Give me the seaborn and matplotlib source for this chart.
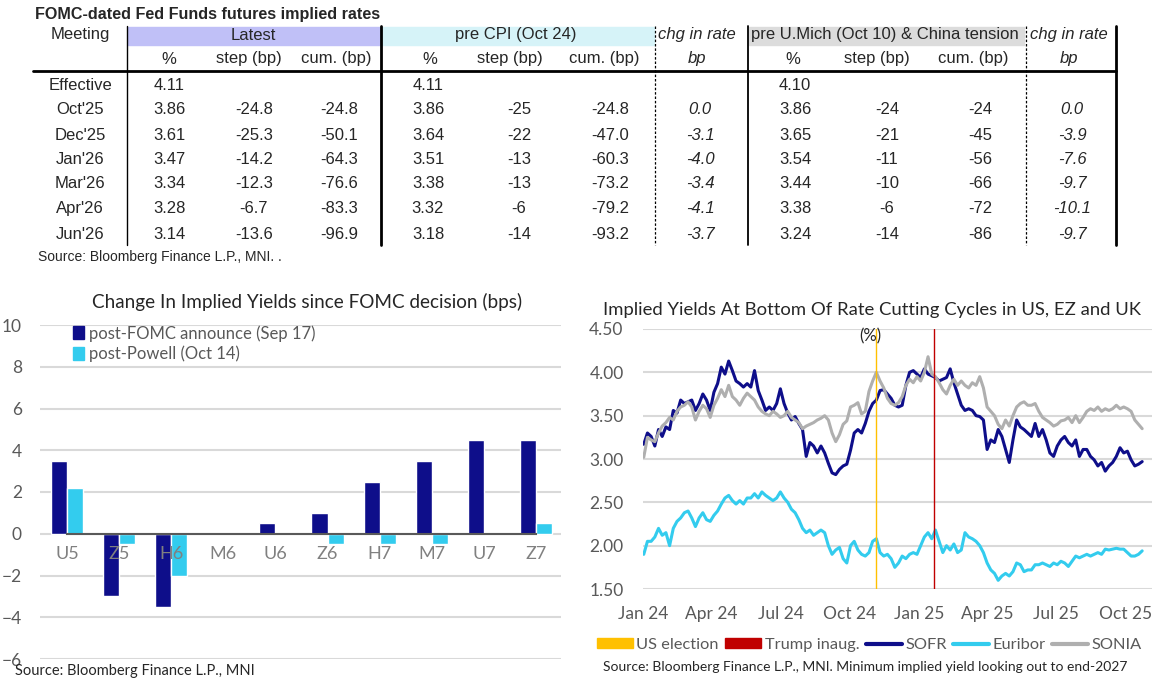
import pandas as pd
import numpy as np
import matplotlib
matplotlib.use("Agg")
import matplotlib.pyplot as plt
import matplotlib.dates as mdates
from matplotlib.patches import Patch, Rectangle
from matplotlib.lines import Line2D
from matplotlib.ticker import FormatStrFormatter
import seaborn as sns

# ---------------- data: FOMC-dated futures table ----------------
meetings = ["Effective", "Oct'25", "Dec'25", "Jan'26", "Mar'26", "Apr'26", "Jun'26"]
latest_pct = [4.11, 3.86, 3.61, 3.47, 3.34, 3.28, 3.14]
latest_step = [None, -24.8, -25.3, -14.2, -12.3, -6.7, -13.6]
latest_cum = [None, -24.8, -50.1, -64.3, -76.6, -83.3, -96.9]
precpi_pct = [4.11, 3.86, 3.64, 3.51, 3.38, 3.32, 3.18]
precpi_step = [None, -25, -22, -13, -13, -6, -14]
precpi_cum = [None, -24.8, -47.0, -60.3, -73.2, -79.2, -93.2]
chg_cpi = [None, 0.0, -3.1, -4.0, -3.4, -4.1, -3.7]
premich_pct = [4.10, 3.86, 3.65, 3.54, 3.44, 3.38, 3.24]
premich_step = [None, -24, -21, -11, -10, -6, -14]
premich_cum = [None, -24, -45, -56, -66, -72, -86]
chg_mich = [None, 0.0, -3.9, -7.6, -9.7, -10.1, -9.7]

# ---------------- data: bar chart ----------------
contracts = ["U5", "Z5", "H6", "M6", "U6", "Z6", "H7", "M7", "U7", "Z7"]
post_fomc = [3.5, -3.0, -3.5, 0.0, 0.5, 1.0, 2.5, 3.5, 4.5, 4.5]
post_powell = [2.2, -0.5, -2.0, 0.0, 0.0, -0.5, -0.5, -0.5, 0.0, 0.5]

# ---------------- data: implied yield lines (approx every ~5 days) ----------------
start_date = "2024-01-02"
end_date = "2025-10-23"
us_election = "2024-11-05"
trump_inaug = "2025-01-20"

sofr = [3.17, 3.30, 3.26, 3.15, 3.34, 3.26, 3.37, 3.34, 3.56, 3.53,
        3.68, 3.64, 3.66, 3.68, 3.56, 3.64, 3.75, 3.68, 3.56, 3.77,
        3.87, 4.06, 3.98, 4.13, 4.02, 3.90, 3.87, 3.83, 3.87, 3.83,
        4.02, 3.79, 3.68, 3.56, 3.60, 3.56, 3.64, 3.81, 3.64, 3.53,
        3.45, 3.49, 3.41, 3.34, 3.03, 3.19, 3.15, 3.07, 3.15, 3.07,
        2.95, 2.84, 2.82, 2.88, 2.92, 2.94, 3.10, 3.30, 3.34, 3.30,
        3.41, 3.55, 3.64, 3.68, 3.79, 3.80, 3.75, 3.70, 3.62, 3.60,
        3.62, 3.85, 4.00, 4.02, 3.98, 3.94, 4.04, 3.98, 3.96, 3.94,
        3.90, 3.92, 3.94, 4.04, 3.88, 3.75, 3.62, 3.56, 3.58, 3.56,
        3.50, 3.49, 3.45, 3.11, 3.22, 3.19, 3.34, 3.26, 3.11, 2.96,
        3.22, 3.45, 3.37, 3.34, 3.30, 3.26, 3.41, 3.26, 3.34, 3.22,
        3.07, 3.03, 3.15, 3.22, 3.26, 3.19, 3.15, 3.22, 3.03, 3.11,
        3.11, 3.03, 2.99, 2.92, 2.96, 2.86, 2.92, 2.96, 3.03, 3.13,
        3.07, 3.09, 2.99, 2.92, 2.94, 2.97]

sonia = [3.02, 3.25, 3.22, 3.20, 3.30, 3.38, 3.42, 3.48, 3.45, 3.55,
         3.60, 3.62, 3.66, 3.60, 3.45, 3.55, 3.62, 3.58, 3.48, 3.62,
         3.70, 3.80, 3.72, 3.85, 3.72, 3.68, 3.62, 3.70, 3.76, 3.72,
         3.68, 3.60, 3.55, 3.52, 3.50, 3.55, 3.52, 3.48, 3.50, 3.55,
         3.48, 3.45, 3.42, 3.35, 3.38, 3.40, 3.42, 3.45, 3.47, 3.50,
         3.45, 3.30, 3.20, 3.28, 3.40, 3.44, 3.60, 3.62, 3.65, 3.52,
         3.55, 3.78, 3.90, 4.00, 3.90, 3.82, 3.70, 3.64, 3.62, 3.65,
         3.72, 3.85, 3.92, 3.88, 3.95, 3.90, 4.00, 4.18, 3.98, 3.95,
         3.88, 3.80, 3.75, 3.85, 3.92, 3.85, 3.90, 3.85, 3.82, 3.88,
         3.85, 3.95, 3.82, 3.60, 3.55, 3.50, 3.40, 3.35, 3.45, 3.38,
         3.50, 3.60, 3.64, 3.66, 3.62, 3.62, 3.64, 3.55, 3.48, 3.45,
         3.42, 3.38, 3.40, 3.44, 3.45, 3.48, 3.42, 3.50, 3.42, 3.48,
         3.55, 3.58, 3.56, 3.60, 3.55, 3.58, 3.56, 3.58, 3.62, 3.58,
         3.60, 3.58, 3.55, 3.45, 3.40, 3.35]

euribor = [1.90, 2.05, 2.05, 2.10, 2.20, 2.12, 2.15, 2.00, 2.20, 2.28,
           2.32, 2.38, 2.40, 2.32, 2.22, 2.32, 2.38, 2.30, 2.28, 2.35,
           2.40, 2.48, 2.55, 2.58, 2.52, 2.48, 2.52, 2.48, 2.55, 2.55,
           2.60, 2.55, 2.62, 2.58, 2.55, 2.52, 2.55, 2.62, 2.55, 2.50,
           2.42, 2.38, 2.30, 2.20, 2.15, 2.18, 2.12, 2.15, 2.18, 2.15,
           2.00, 1.90, 1.95, 1.98, 1.85, 1.80, 2.00, 2.05, 1.95, 1.90,
           1.88, 1.92, 2.05, 2.08, 1.92, 1.88, 1.90, 1.85, 1.75, 1.80,
           1.88, 1.85, 1.90, 1.92, 1.90, 2.00, 2.10, 2.15, 2.08, 2.18,
           2.05, 1.92, 2.00, 1.95, 2.02, 1.92, 1.95, 2.15, 2.10, 2.08,
           2.05, 2.00, 1.92, 1.80, 1.72, 1.68, 1.60, 1.65, 1.68, 1.65,
           1.70, 1.80, 1.78, 1.70, 1.72, 1.72, 1.78, 1.78, 1.80, 1.78,
           1.76, 1.80, 1.78, 1.82, 1.80, 1.76, 1.82, 1.88, 1.86, 1.88,
           1.90, 1.88, 1.90, 1.92, 1.90, 1.96, 1.95, 1.96, 1.97, 1.96,
           1.96, 1.92, 1.88, 1.88, 1.90, 1.94]

# ---------------- style ----------------
sns.set_style("white")
plt.rcParams['font.family'] = ['Lato', 'DejaVu Sans']

NAVY = '#0E0E8A'
CYAN = '#33CCEE'
GREY_LINE = '#AFAFAF'
TXT = '#595959'
W, H = 1158, 683

fig = plt.figure(figsize=(W / 100, H / 100), dpi=100)


def fx(x):
    return x / W


def fy(y):
    return 1 - y / H


# ---------------- table ----------------
TF = ['Liberation Sans', 'DejaVu Sans']
fig.text(fx(35), fy(14), "FOMC-dated Fed Funds futures implied rates", family=TF,
         weight='bold', size=11.6, ha='left', va='center')

# header bands
for x0, x1, col in [(128, 380, '#C0C0F7'), (382, 654, '#D6F3F8'), (749, 1024, '#DCDCDC')]:
    fig.patches.append(Rectangle((fx(x0), fy(45)), fx(x1) - fx(x0), fy(27) - fy(45),
                                 transform=fig.transFigure, color=col, zorder=0))

fig.text(fx(80), fy(35), "Meeting", family=TF, size=12, ha='center', va='center')
fig.text(fx(253), fy(35), "Latest", family=TF, size=12, ha='center', va='center')
fig.text(fx(516), fy(35), "pre CPI (Oct 24)", family=TF, size=12, ha='center', va='center')
fig.text(fx(885), fy(35), "pre U.Mich (Oct 10) & China tension", family=TF, size=12,
         ha='center', va='center')
for xc in [697, 1069]:
    fig.text(fx(xc), fy(35), "chg in rate", family=TF, size=12, style='italic',
             ha='center', va='center')
    fig.text(fx(xc), fy(59), "bp", family=TF, size=12, style='italic', ha='center', va='center')

for xc, lab in [(169, "%"), (249, "step (bp)"), (336, "cum. (bp)"),
                (430, "%"), (510, "step (bp)"), (604, "cum. (bp)"),
                (793, "%"), (877, "step (bp)"), (973, "cum. (bp)")]:
    fig.text(fx(xc), fy(59), lab, family=TF, size=12, ha='center', va='center')

row_y = [85, 110, 135, 159, 184, 209, 234]
columns = [
    (80, meetings, "{}", 'normal'),
    (169, latest_pct, "{:.2f}", 'normal'),
    (254, latest_step, "{:.1f}", 'normal'),
    (339, latest_cum, "{:.1f}", 'normal'),
    (428, precpi_pct, "{:.2f}", 'normal'),
    (519, precpi_step, "{:.0f}", 'normal'),
    (610, precpi_cum, "{:.1f}", 'normal'),
    (700, chg_cpi, "{:.1f}", 'italic'),
    (795, premich_pct, "{:.2f}", 'normal'),
    (887, premich_step, "{:.0f}", 'normal'),
    (980, premich_cum, "{:.0f}", 'normal'),
    (1072, chg_mich, "{:.1f}", 'italic'),
]
for xc, vals, fmt, st in columns:
    for yy, v in zip(row_y, vals):
        if v is None:
            continue
        fig.text(fx(xc), fy(yy), fmt.format(v), family=TF, size=12, style=st,
                 ha='center', va='center')

# table rules
fig.add_artist(Line2D([fx(33), fx(1116)], [fy(71), fy(71)], color='black', lw=2))
for x, lw, ls in [(127, 1.0, '-'), (381, 2.0, '-'), (655, 0.9, (0, (2, 1.5))),
                  (748, 1.3, '-'), (1026, 0.9, (0, (2, 1.5))), (1116, 2.0, '-')]:
    fig.add_artist(Line2D([fx(x), fx(x)], [fy(26), fy(245)], color='black', lw=lw, ls=ls))

fig.text(fx(38), fy(257), "Source: Bloomberg Finance L.P., MNI. .", family=TF, size=10,
         ha='left', va='center')

# ---------------- left: bar chart ----------------
ax1 = fig.add_axes([fx(40), fy(659), fx(561) - fx(40), fy(325) - fy(659)])
bars = pd.DataFrame({
    'contract': contracts * 2,
    'bps': post_fomc + post_powell,
    'series': ['post-FOMC announce (Sep 17)'] * len(contracts) + ['post-Powell (Oct 14)'] * len(contracts),
})
sns.barplot(data=bars, x='contract', y='bps', hue='series', palette=[NAVY, CYAN],
            width=0.62, saturation=1, legend=False, ax=ax1, zorder=3)
ax1.set_ylim(-6, 10)
ax1.set_yticks(range(-6, 11, 2))
ax1.set_xlim(-0.52, 9.48)
ax1.set_axisbelow(True)
ax1.xaxis.set_zorder(5)
ax1.grid(axis='y', color='#D9D9D9', lw=1.5)
ax1.grid(axis='x', visible=False)
for s in ['top', 'right', 'left']:
    ax1.spines[s].set_visible(False)
ax1.spines['bottom'].set_position(('data', 0))
ax1.spines['bottom'].set_bounds(0, len(contracts) - 1)
ax1.spines['bottom'].set_color('#595959')
ax1.spines['bottom'].set_linewidth(1.5)
ax1.spines['bottom'].set_zorder(4)
ax1.tick_params(axis='x', length=0, pad=9, labelsize=13, labelcolor='#808080')
ax1.tick_params(axis='y', length=0, pad=13, labelsize=12.5, labelcolor=TXT)
ax1.set_xlabel('')
ax1.set_ylabel('')
ax1.legend(handles=[Patch(color=NAVY), Patch(color=CYAN)],
           labels=['post-FOMC announce (Sep 17)', 'post-Powell (Oct 14)'],
           loc='upper left', bbox_to_anchor=(0.063, 1.0), frameon=False, fontsize=12,
           labelcolor=TXT, handlelength=0.7, handleheight=0.8, handletextpad=0.3,
           labelspacing=0.25, borderpad=0, borderaxespad=0)
fig.text(fx(307), fy(302), "Change In Implied Yields since FOMC decision (bps)", size=13.6,
         color='#262626', ha='center', va='center')
fig.text(fx(15), fy(671), "Source: Bloomberg Finance L.P., MNI", size=10.5,
         ha='left', va='center')

# ---------------- right: line chart ----------------
ax2 = fig.add_axes([fx(643), fy(589), fx(1152) - fx(643), fy(329) - fy(589)])
dates = pd.date_range(start_date, end_date, periods=len(sofr))
lines = pd.DataFrame({'date': dates, 'SOFR': sofr, 'Euribor': euribor, 'SONIA': sonia})
sns.lineplot(data=lines, x='date', y='SOFR', color=NAVY, lw=2.2, ax=ax2)
sns.lineplot(data=lines, x='date', y='Euribor', color=CYAN, lw=2.2, ax=ax2)
sns.lineplot(data=lines, x='date', y='SONIA', color=GREY_LINE, lw=2.2, ax=ax2)
ax2.axvline(pd.Timestamp(us_election), color='#FFC000', lw=1)
ax2.axvline(pd.Timestamp(trump_inaug), color='#C00000', lw=1)
ax2.set_ylim(1.5, 4.5)
ax2.set_yticks(np.arange(1.5, 4.51, 0.5))
ax2.yaxis.set_major_formatter(FormatStrFormatter('%.2f'))
ax2.set_xlim(pd.Timestamp("2024-01-01"), pd.Timestamp("2025-11-05"))
ax2.xaxis.set_major_locator(mdates.MonthLocator(bymonth=[1, 4, 7, 10]))
ax2.xaxis.set_major_formatter(mdates.DateFormatter('%b %y'))
ax2.set_axisbelow(True)
ax2.grid(axis='y', color='#D9D9D9', lw=1.5)
ax2.grid(axis='x', visible=False)
for s in ax2.spines.values():
    s.set_visible(False)
ax2.tick_params(axis='x', length=0, pad=12, labelsize=12.5, labelcolor=TXT)
ax2.tick_params(axis='y', length=0, pad=14, labelsize=12.5, labelcolor=TXT)
ax2.set_xlabel('')
ax2.set_ylabel('')
fig.text(fx(872), fy(310), "Implied Yields At Bottom Of Rate Cutting Cycles in US, EZ and UK",
         size=13.3, color='#262626', ha='center', va='center')
fig.text(fx(870), fy(336), "(%)", size=12, color='#262626', ha='center', va='center')

handles = [Patch(color='#FFC000'), Patch(color='#C00000'),
           Line2D([], [], color=NAVY, lw=3), Line2D([], [], color=CYAN, lw=3),
           Line2D([], [], color=GREY_LINE, lw=3)]
fig.legend(handles, ['US election', 'Trump inaug.', 'SOFR', 'Euribor', 'SONIA'],
           loc='center left', bbox_to_anchor=(fx(597), fy(645)), ncol=5, frameon=False,
           fontsize=11.8, labelcolor=TXT, handlelength=2.2, handleheight=0.55,
           handletextpad=0.2, columnspacing=0.4, borderpad=0, borderaxespad=0)
fig.text(fx(603), fy(667), "Source: Bloomberg Finance L.P., MNI. Minimum implied yield looking out to end-2027",
         size=10, ha='left', va='center')

fig.savefig("out.png", dpi=100)
